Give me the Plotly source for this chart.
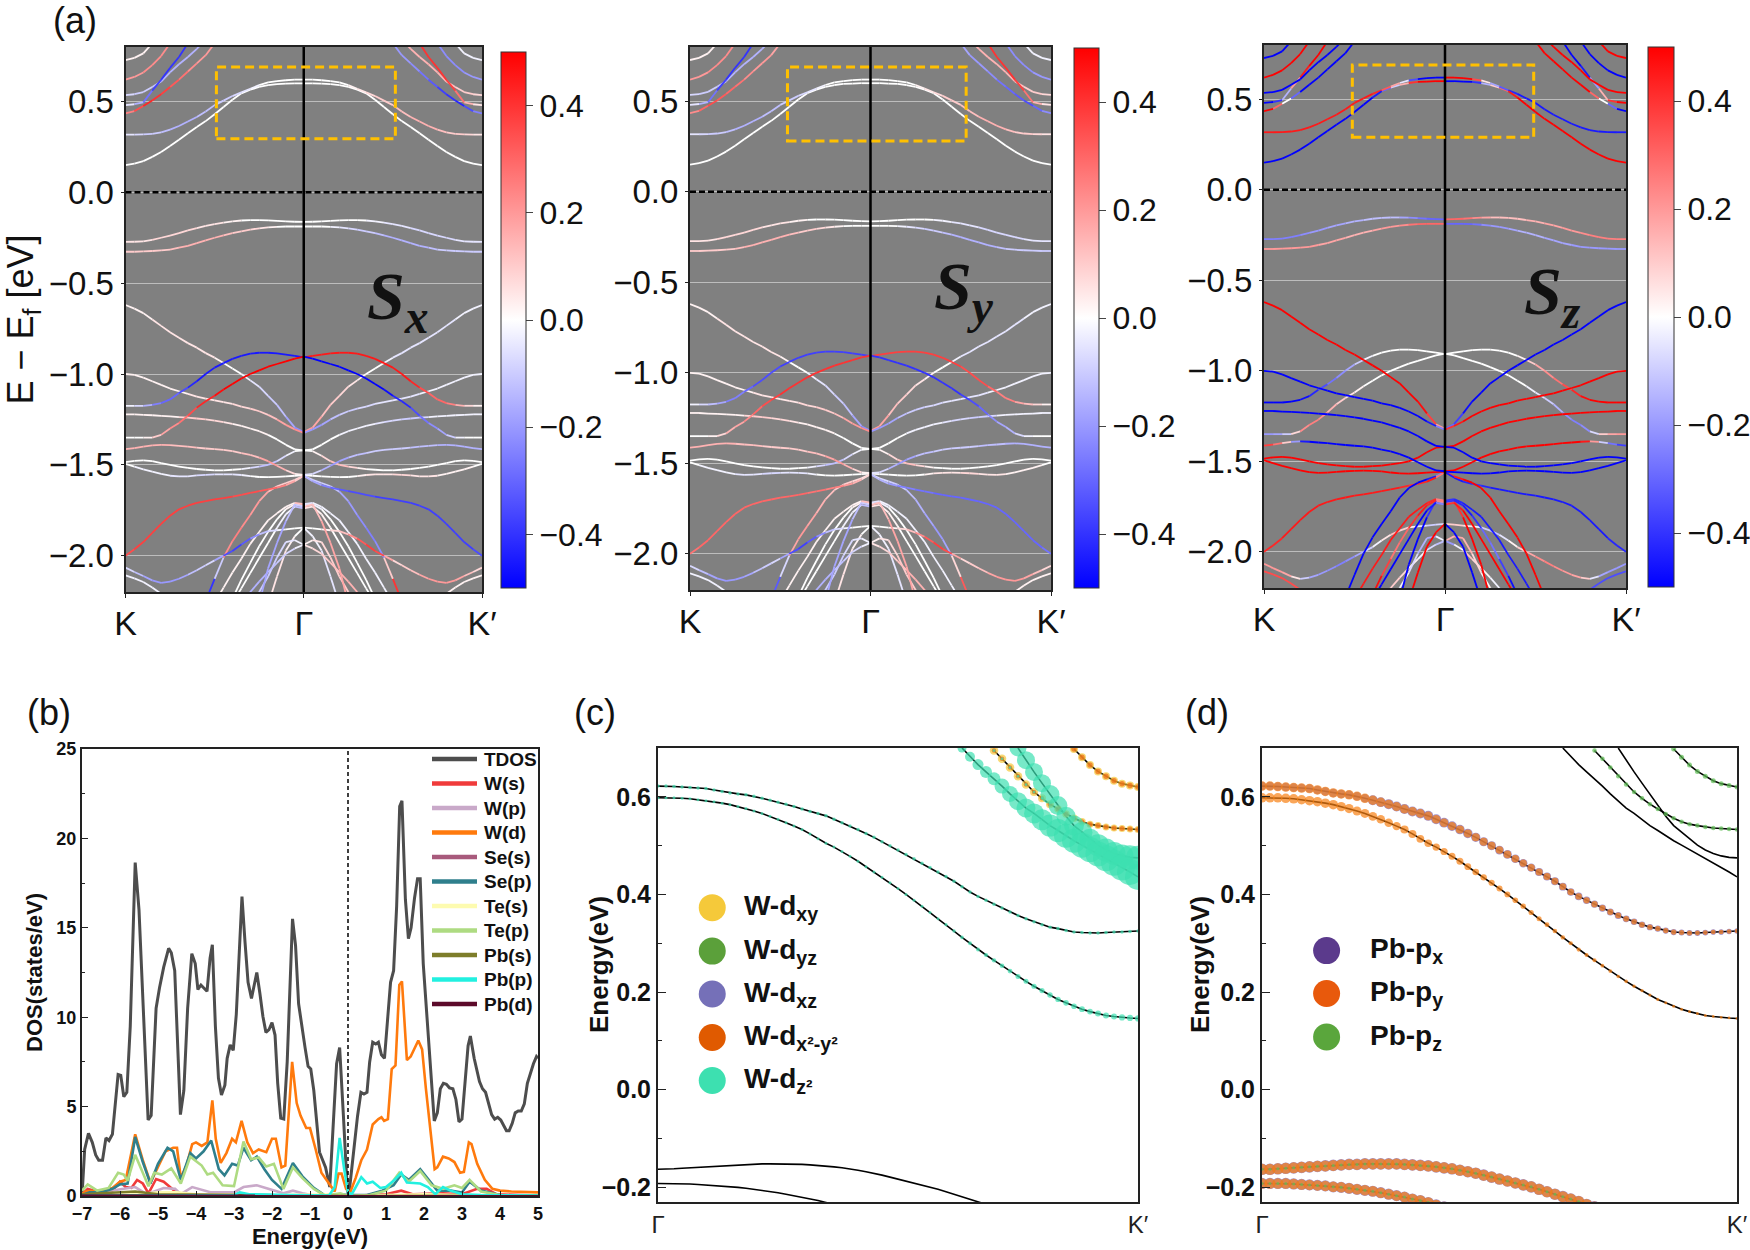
import numpy as np
import plotly.graph_objects as go

W, H = 1750, 1250
SANS = "Liberation Sans"

# --- panel (a): bands from K to Gamma, read at 21 even steps. K' side is the mirror (spin flips sign)
e_a = [-.62,-.64,-.665,-.70,-.735,-.77,-.80,-.83,-.855,-.885,-.91,-.94,-.97,-1.0,-1.035,-1.07,-1.12,-1.17,-1.235,-1.295,-1.32]
e_b = [-1.175,-1.175,-1.175,-1.17,-1.16,-1.14,-1.105,-1.075,-1.04,-1.0,-.965,-.94,-.917,-.90,-.888,-.883,-.883,-.886,-.893,-.90,-.908]
e_c = [-1.0,-1.005,-1.02,-1.04,-1.06,-1.08,-1.095,-1.11,-1.125,-1.135,-1.145,-1.155,-1.165,-1.18,-1.19,-1.205,-1.225,-1.25,-1.28,-1.305,-1.325]
e_d = [-1.35,-1.35,-1.35,-1.35,-1.335,-1.30,-1.27,-1.23,-1.185,-1.15,-1.12,-1.085,-1.055,-1.025,-1.0,-.98,-.96,-.945,-.93,-.915,-.905]
e_e = [-1.222,-1.222,-1.225,-1.227,-1.23,-1.233,-1.237,-1.24,-1.245,-1.25,-1.257,-1.265,-1.275,-1.285,-1.30,-1.315,-1.335,-1.36,-1.39,-1.415,-1.42]
e_f = [-1.413,-1.408,-1.40,-1.393,-1.39,-1.392,-1.396,-1.40,-1.405,-1.41,-1.414,-1.418,-1.425,-1.435,-1.445,-1.46,-1.48,-1.505,-1.53,-1.55,-1.555]
e_g = [-1.485,-1.478,-1.475,-1.48,-1.49,-1.50,-1.51,-1.517,-1.523,-1.527,-1.53,-1.53,-1.527,-1.524,-1.517,-1.51,-1.50,-1.48,-1.45,-1.425,-1.42]
e_h = [-1.495,-1.51,-1.525,-1.538,-1.55,-1.56,-1.564,-1.563,-1.558,-1.555,-1.553,-1.552,-1.553,-1.556,-1.562,-1.567,-1.568,-1.566,-1.563,-1.56,-1.557]
e_i = [-2.0,-1.965,-1.925,-1.875,-1.825,-1.78,-1.745,-1.725,-1.71,-1.70,-1.69,-1.683,-1.675,-1.665,-1.655,-1.645,-1.635,-1.625,-1.612,-1.59,-1.56]
e_j = [-2.066,-2.09,-2.112,-2.136,-2.15,-2.143,-2.127,-2.105,-2.08,-2.053,-2.026,-2.0,-1.974,-1.938,-1.906,-1.883,-1.865,-1.86,-1.855,-1.85,-1.846]
e_k = [-2.108,-2.125,-2.145,-2.175,-2.21,None,None,None,None,None,None,None,None,None,None,None,None,None,None,None,None]
e_m = [None]*9 + [-2.25,-2.128,-2.01,-1.92,-1.846,-1.776,-1.70,-1.648,-1.618,-1.60,-1.583,-1.56]
e_n = [None]*10 + [-2.26,-2.176,-2.093,-2.017,-1.935,-1.87,-1.806,-1.767,-1.731,-1.709,-1.717]
e_o = [None]*12 + [-2.237,-2.133,-2.04,-1.948,-1.869,-1.80,-1.744,-1.717,-1.726]
e_p = [None]*12 + [-2.263,-2.18,-2.096,-2.013,-1.93,-1.846,-1.772,-1.73,-1.739]
e_q = [None]*13 + [-2.26,-2.2,-2.143,-2.09,-2.04,-1.99,-1.96,-1.94]
e_r = [None]*15 + [-2.263,-2.07,-1.93,-1.81,-1.717,-1.731]
e_s = [None]*16 + [-2.27,-2.115,-1.972,-1.893,-1.846]
e_t = [None]*14 + [-2.27,-2.2,-2.115,-2.01,-1.925,-1.915,-1.94]
e_u1 = [.15,.158,.172,.195,.222,.255,.29,.325,.36,.392,.43,.47,.51,.545,.565,.58,.59,.596,.598,.60,.60]
e_u2 = [.318,.318,.319,.322,.33,.345,.365,.39,.415,.445,.48,.505,.53,.55,.57,.59,.605,.612,.617,.62,.62]
e_t1 = [.728,.74,.765,.82] + [None]*17
e_t2 = [.62,.635,.66,.70,.75,.82] + [None]*15
e_t3 = [.535,.54,.552,.58,.61,.66,.705,.745,.79,.84] + [None]*11
e_t4 = [.48,.485,.495,.56,.62,.685,.745,.82] + [None]*13
e_t5 = [.435,.447,.475,.505,.54,.58,.62,.665,.71,.755,.82] + [None]*10
e_v1 = [-.273,-.272,-.27,-.262,-.25,-.238,-.225,-.21,-.197,-.185,-.175,-.167,-.16,-.155,-.153,-.153,-.154,-.157,-.16,-.162,-.163]
e_v2 = [-.327,-.327,-.325,-.323,-.32,-.315,-.305,-.295,-.28,-.265,-.25,-.237,-.225,-.215,-.205,-.198,-.193,-.19,-.188,-.188,-.188]

# Sx on the same steps
sx_a = [.03,.03,.03,.04,.04,.05,.05,.06,.06,.05,.03,.02,0,-.02,-.03,-.05,-.08,-.12,-.15,-.2,-.25]
sx_b = [-.02,-.05,-.12,-.2,-.28,-.32,-.3,-.4,-.45,-.45,-.45,-.45,-.45,-.45,-.45,-.45,-.45,-.45,-.45,-.45,-.45]
sx_c = [.02,.02,.02,.02,.02,.02,.03,.04,.05,.05,.05,.06,.06,.08,.08,.1,.12,.15,.18,.2,.25]
sx_d = [0,0,.02,.05,.15,.2,.25,.3,.42,.42,.45,.5,.5,.5,.5,.5,.5,.5,.5,.5,.5]
sx_e = [.02,.02,.02,.02,.02,.03,.03,.1,.1,.08,.08,.06,.04,.03,.02,.02,.01,0,0,0,0]
sx_f = [.15,.15,.15,.15,.15,.15,.12,.12,.12,.1,.1,.1,.1,.12,.12,.15,.2,.2,.1,.05,0]
sx_g = [0,0,0,0,0,0,0,0,0,0,0,0,0,-.02,-.05,-.08,-.15,-.1,-.03,0,0]
sx_h = [.02,0,-.03,-.03,-.03,-.04,-.06,-.04,-.06,-.08,-.06,-.06,-.05,-.03,-.02,0,0,0,0,0,0]
sx_i = [.35,.35,.38,.38,.38,.38,.38,.38,.38,.38,.38,.38,.36,.36,.35,.33,.3,.3,.2,.15,.05]
sx_j = [-.05,-.1,-.15,-.18,-.2,-.2,-.18,-.15,-.12,-.1,-.05,-.3,-.4,-.35,-.3,-.15,-.1,-.05,0,0,0]
sx_k = [-.03,-.03,-.03,-.03,-.03] + [None]*16
sx_m = [None]*9 + [-.4,-.4,.2,.25,.25,.2,.18,.15,.12,.1,.08,.05]
sx_n = [None]*10 + [.02,.02,.02,.02,.02,.02,.02,.02,.02,.05,.2]
sx_o = [None]*12 + [.01,.01,.01,.01,.01,.01,.01,.02,.1]
sx_p = [None]*12 + [-.01,-.01,-.01,-.01,-.01,-.01,-.02,-.05,-.2]
sx_q = [None]*13 + [-.15,-.15,-.15,-.15,-.12,-.1,-.05,0]
sx_r = [None]*15 + [-.18,-.18,-.18,-.15,-.12,-.1]
sx_s = [None]*16 + [.05,.05,.03,.02,0]
sx_t = [None]*14 + [-.1,-.1,-.1,-.08,-.05,-.03,0]
sx_u1 = [0]*21
sx_u2 = [-.03,-.05,-.08,-.1,-.12,-.15,-.15,-.15,-.15,-.12,-.12,-.1,-.08,-.05,-.03,-.02,0,0,0,0,0]
sx_t1 = [.02,.02,.02,.02] + [None]*17
sx_t2 = [.2,.2,.22,.22,.22,.22] + [None]*15
sx_t3 = [-.05,-.08,-.1,-.12,-.15,-.15,-.15,-.15,-.15,-.15] + [None]*11
sx_t4 = [-.02,-.1,-.2,-.35,-.4,-.4,-.4,-.4] + [None]*13
sx_t5 = [.2,.3,.42,.42,.4,.35,.3,.25,.22,.2,.2] + [None]*10
sx_v1 = [.05,.05,.06,.06,.08,.08,.08,.08,.06,.05,.05,.03,.02,.02,0,0,0,0,0,0,0]
sx_v2 = [.1,.1,.1,.1,.1,.12,.14,.14,.15,.15,.15,.13,.1,.1,.08,.05,.03,.02,0,0,0]

# Sy looks like Sx except for a few weaker bands, those are typed below
sy_b = [-.02,-.05,-.1,-.15,-.22,-.26,-.25,-.33,-.36,-.36,-.36,-.38,-.38,-.38,-.38,-.38,-.38,-.38,-.38,-.38,-.38]
sy_d = [0,0,.02,.04,.12,.16,.2,.25,.35,.35,.38,.4,.4,.4,.4,.4,.4,.4,.4,.4,.4]
sy_i = [.28,.28,.3,.3,.3,.3,.3,.3,.3,.3,.3,.3,.29,.29,.28,.26,.24,.24,.16,.12,.04]
sy_m = [None]*9 + [-.33,-.33,.16,.2,.2,.16,.14,.12,.1,.08,.06,.04]
sy_t5 = [.2,.25,.35,.35,.32,.3,.25,.22,.2,.18,.18] + [None]*10

# Sz on the same steps
sz_a = [.5]*18 + [.45,.3,.1]
sz_b = [-.5,-.5,-.5,-.5,-.48,-.45,-.4,-.3,-.25,-.2,-.15,-.05,0,0,0,0,0,0,0,0,0]
sz_c = [-.5]*18 + [-.5,-.4,-.1]
sz_d = [-.2,-.2,-.15,-.05,.2,.25,.25,.2,.12,.06,.02,.01,0,0,0,0,0,0,0,0,0]
sz_e = [-.5]*21
sz_f = [.4,.35,.2,.0,-.4,-.5,-.5,-.5,-.5,-.5,-.5,-.5,-.5,-.5,-.5,-.5,-.5,-.5,-.5,-.5,-.5]
sz_g = [.5]*21
sz_h = [.5]*21
sz_i = [.42,.42,.45,.45,.45,.45,.45,.45,.45,.45,.45,.45,.45,.45,.45,.45,.4,.4,.45,.45,.1]
sz_j = [.2,.2,.2,.15,-.05,-.15,-.2,-.22,-.25,-.25,-.22,-.15,-.05,.02,.1,.15,.05,.0,-.1,-.1,-.05]
sz_k = [.35,.35,.35,.35,.35] + [None]*16
sz_m = [None]*9 + [-.5,-.5,-.5,-.5,-.5,-.5,-.5,-.5,-.5,-.5,-.4,-.1]
sz_n = [None]*10 + [.45,.45,.45,.45,.45,.45,.45,.45,.45,.4,.1]
sz_o = [None]*12 + [.5,.45,.3,.25,.35,.45,.45,.4,.1]
sz_p = [None]*12 + [-.5,-.5,-.5,-.5,-.5,-.5,-.5,-.4,-.1]
sz_q = [None]*13 + [.1,.1,.1,.05,.02,-.05,-.1,-.15,-.2]
sz_r = [None]*15 + [-.5,-.5,-.5,-.5,-.3,-.1]
sz_s = [None]*16 + [.5,.5,.5,.5,.45]
sz_t = [None]*14 + [.02,0,-.05,-.1,-.2,-.15,.1]
sz_u1 = [-.5]*13 + [-.4,-.2,0,.3,.5,.5,.5,.5]
sz_u2 = [.45]*13 + [.4,.25,.1,-.2,-.5,-.5,-.5,-.5]
sz_t1 = [-.5,-.5,-.5,-.5] + [None]*17
sz_t2 = [.5,.5,.5,.5,.5,.5] + [None]*15
sz_t3 = [-.5]*10 + [None]*11
sz_t4 = [-.5,-.5,-.3,0,.4,.5,.5,.5] + [None]*13
sz_t5 = [.5,.5,.1,-.1,-.5,-.5,-.5,-.5,-.5,-.5,-.5] + [None]*10
sz_v1 = [-.25,-.25,-.25,-.25,-.25,-.22,-.2,-.18,-.18,-.15,-.15,-.13,-.12,-.12,-.12,-.15,-.2,-.25,-.28,-.3,-.3]
sz_v2 = [.2,.2,.2,.2,.2,.2,.18,.18,.18,.15,.15,.15,.17,.18,.2,.22,.25,.3,.3,.3,.3]

# --- panel (b): DOS
tdos_e = [-7,-6.93,-6.83,-6.73,-6.64,-6.56,-6.46,-6.37,-6.29,-6.2,-6.05,-5.98,-5.9,-5.82,-5.73,-5.6,-5.5,-5.39,-5.26,-5.18,-5.05,-4.96,-4.85,-4.72,-4.65,-4.56,-4.41,-4.32,-4.22,-4.11,-4.02,-3.95,-3.87,-3.71,-3.63,-3.57,-3.49,-3.41,-3.33,-3.24,-3.18,-3.1,-3.02,-2.94,-2.85,-2.79,-2.71,-2.63,-2.54,-2.46,-2.4,-2.32,-2.24,-2.16,-2.08,-2.0,-1.92,-1.85,-1.77,-1.69,-1.6,-1.46,-1.38,-1.3,-1.21,-1.13,-1.05,-.98,-.9,-.82,-.75,-.59,-.48,-.3,-.22,-.12,-.02,.02,.12,.25,.34,.42,.5,.57,.65,.73,.8,.88,.96,1.05,1.12,1.2,1.28,1.36,1.42,1.51,1.59,1.66,1.75,1.83,1.9,1.98,2.12,2.27,2.35,2.43,2.51,2.59,2.67,2.76,2.84,2.92,3.0,3.08,3.16,3.22,3.32,3.46,3.54,3.62,3.69,3.78,3.86,3.94,4.02,4.1,4.17,4.24,4.32,4.4,4.48,4.56,4.64,4.72,4.88,4.96,5]
tdos_v = [0,2.6,3.5,3.0,2.3,2.0,2.0,3.25,3.1,3.45,6.8,6.75,5.55,5.8,9.5,18.65,16,10.5,4.25,4.5,10.5,11.65,12.8,13.85,13.6,12.6,4.55,5.9,10.5,13.55,13,11.55,11.8,11.45,13.3,14.05,9.5,6.6,5.65,6.2,7.7,8.45,8.15,10.15,14.6,16.75,14.2,11.95,11.05,11.95,12.5,11.35,10.05,9.15,9.3,9.7,9.0,6.3,4.35,4.3,7.5,15.5,14,10.75,9.3,8.3,7.25,7.1,5.9,4.05,2.45,1.6,.5,7.4,8.3,4.45,.4,0,2.0,4.45,5.8,5.7,5.8,7.5,8.6,8.5,8.6,7.9,7.7,10.15,11.95,12.6,16.2,21.8,22.1,16.6,14.4,15,16.65,17.75,17.75,13,8.5,4.2,4.65,6,6.3,6.25,6.05,6.0,5.4,4.15,4.3,6.5,8.4,8.95,7.7,6.4,6.0,5.8,5.3,4.55,4.3,4.4,4.25,3.95,3.65,3.65,4.05,4.65,4.75,4.75,5.15,6.3,7.4,7.8,7.7]
wd_e = [-7,-6.9,-6.5,-6.2,-6.0,-5.85,-5.6,-5.4,-5.2,-5.0,-4.8,-4.6,-4.5,-4.4,-4.25,-4.1,-4.0,-3.85,-3.7,-3.57,-3.48,-3.35,-3.2,-3.05,-2.95,-2.8,-2.65,-2.5,-2.35,-2.15,-2.0,-1.9,-1.75,-1.65,-1.47,-1.35,-1.25,-1.1,-1.0,-.85,-.7,-.5,-.35,-.25,-.17,-.05,.05,.2,.35,.5,.65,.8,.88,.95,1.05,1.15,1.25,1.35,1.42,1.55,1.65,1.85,1.95,2.05,2.28,2.35,2.5,2.65,2.8,2.95,3.05,3.18,3.25,3.4,3.6,3.8,4.0,4.3,5]
wd_v = [.1,.25,.3,.45,.8,.9,3.45,2.0,.75,1.6,2.5,2.7,2.7,1.0,1.7,2.9,3.0,2.8,3.0,5.35,3.2,1.85,2.4,3.2,3.0,4.2,3.0,2.4,2.6,2.45,3.2,3.2,1.6,1.7,7.5,5.2,4.5,3.8,3.8,2.6,1.3,.7,.25,1.25,1.25,.4,.15,1.0,2.0,2.6,4.0,4.3,4.4,4.2,4.3,7.1,7.3,11.8,12.0,7.6,7.8,8.7,8.2,6.0,1.5,1.6,2.2,2.1,1.9,1.3,1.35,3.0,2.9,1.8,.9,.4,.3,.25,.2]
sep_e = [-7,-6.8,-6.5,-6.2,-6,-5.8,-5.6,-5.4,-5.2,-5,-4.75,-4.6,-4.4,-4.15,-4,-3.8,-3.6,-3.4,-3.25,-3.05,-2.9,-2.75,-2.55,-2.4,-2.2,-2,-1.75,-1.45,-1.2,-.9,-.6,-.2,0,.5,.9,1.2,1.4,1.6,1.9,2.2,2.35,2.7,3,3.2,3.5,4,5]
sep_v = [.05,.2,.2,.4,.65,.7,3.3,1.9,.7,1.8,2.7,2.5,.9,2.4,2.1,2.5,3.1,1.5,1.15,1.8,1.7,2.7,2.0,2.2,1.5,.9,.4,1.85,1.1,.45,.02,.1,.05,.05,.3,.6,1.2,.9,1.5,.7,.3,.3,.2,.8,.3,.05,.02]
tep_e = [-7,-6.85,-6.6,-6.3,-6.05,-5.9,-5.8,-5.6,-5.4,-5.25,-5.1,-4.9,-4.65,-4.4,-4.15,-3.85,-3.7,-3.55,-3.3,-3,-2.75,-2.55,-2.35,-2.15,-1.95,-1.7,-1.45,-1.2,-.9,-.6,-.2,0,.5,1.0,1.35,1.6,1.9,2.2,2.5,2.8,3,3.2,3.5,4,5]
tep_v = [.3,.65,.3,.45,1.3,1.2,.85,2.3,1.3,.55,1.3,1.2,1.55,.7,2.2,1.7,1.2,1.3,.6,.55,3.05,2.05,2.15,1.65,1.8,.4,1.6,1.0,.4,.02,.15,0,.02,.3,1.3,.8,1.4,.6,.4,.6,.45,.9,.25,.05,.02]
ws_e = [-7,-6.85,-6.5,-6.2,-6.0,-5.85,-5.7,-5.55,-5.4,-5.25,-5.05,-4.85,-4.6,-4.4,-4,-3,0,1.0,1.4,1.7,2.5,3,3.4,3.65,3.9,5]
ws_v = [.1,.4,.2,.3,.8,.5,.45,.9,.7,.15,.95,.8,.35,.1,.05,.02,0,.1,.3,.1,.15,.1,.4,.4,.1,.02]
wp_e = [-7,-5.6,-5.3,-4.85,-4.55,-4.4,-4.1,-3.85,-3.6,-3,-2.75,-2.4,-2,-1.7,-1.45,-1.2,-.9,0,5]
wp_v = [.05,.5,.1,.45,.4,.1,.5,.35,.2,.2,.5,.6,.35,.15,.3,.15,.02,0,.01]
pbp_e = [-7,-3,-2.85,-2.6,-1.5,-.5,-.35,-.22,-.1,0,.1,.35,.5,.65,.85,1,1.2,1.4,1.55,1.9,2.1,2.3,2.5,2.7,3,3.5,5]
pbp_v = [.02,.05,.2,.1,.05,.02,.5,3.25,1.5,.2,.1,1.05,.7,.8,.45,.5,.85,1.3,.75,.7,.5,.1,.5,.3,.1,.05,.02]
pbs_e = [-7,-5.6,-5,-3,-1,0,5]
pbs_v = [.1,.25,.1,.05,.02,0,.01]
tes_e = [-7,-5.5,-5,-4.5,-4,-2,-.2,0,1,2,3,5]
tes_v = [.02,.1,.2,.2,.1,.05,.1,0,.05,.1,.05,.01]
ses_e = [-7,-5,-3,0,3,5]
ses_v = [.03,.04,.03,0,.03,.01]
pbd_e = [-7,-3,0,3,5]
pbd_v = [.02,.02,0,.02,.01]

# --- panels (c) and (d): bands from Gamma to K', 61 k points
b1 = [.622,.622,.621,.620,.619,.618,.617,.614,.611,.608,
      .606,.604,.601,.597,.593,.589,.585,.580,.575,.570,
      .566,.561,.554,.547,.540,.533,.525,.517,.508,.500,
      .491,.482,.473,.464,.455,.446,.437,.427,.416,.405,
      .396,.388,.380,.372,.364,.357,.350,.344,.338,.333,
      .330,.326,.323,.322,.321,.321,.322,.323,.323,.324,.325]
b2 = [.598,.598,.598,.597,.596,.594,.592,.590,.587,.584,
      .580,.576,.571,.566,.560,.554,.547,.540,.533,.524,
      .514,.505,.497,.488,.478,.468,.457,.446,.435,.424,
      .412,.400,.388,.376,.363,.350,.338,.325,.312,.300,
      .287,.276,.265,.254,.243,.232,.222,.212,.203,.194,
      .185,.178,.171,.165,.160,.156,.152,.150,.148,.147,.146]
b3 = [-.163,-.163,-.162,-.161,-.160,-.159,-.158,-.157,-.156,-.155,
      -.154,-.153,-.153,-.152,-.152,-.152,-.152,-.152,-.153,-.154,
      -.155,-.156,-.158,-.160,-.162,-.165,-.168,-.171,-.175,-.179,
      -.183,-.187,-.191,-.195,-.199,-.204,-.209,-.214,-.219,-.224,
      -.229,-.235,-.240,-.246]
b4 = [-.192,-.192,-.192,-.192,-.193,-.194,-.195,-.196,-.197,-.199,
      -.200,-.202,-.204,-.206,-.208,-.211,-.214,-.217,-.220,-.224,
      -.227,-.231,-.236,-.240]
b5 = [.698,.681,.665,.652,.642,.633,.627,.623,.620]
b6 = [.695,.678,.660,.642,.625,.610,.597,.585,.575,.565,.556,.549,.544,.541,.538,.536,.535,.534,.533]
b7 = [.70,.675,.651,.628,.605,.582,.560,.541,.527,.513,.501,.491,.484,.479,.476,.475]
b8 = [.700,.682,.666,.651,.637,.622,.606,.591,.577,.566,.553,.541,.531,.520,.510,.501,.492,.483,.474,.465,.455,.446,.436]

# orbital weights per dot
z2_b1 = [.35]*61
z2_b2 = [.3]*36 + [.32,.34,.36,.38,.4,.42,.44,.46,.48,.5,.5,.52,.52,.54,.54,.56,.56,.58,.58,.6,.6,.6,.62,.62,.62]
z2_b6 = [.3,.3,.3,.3,.3,.3,.3]
z2_b7 = [1.7,1.8,1.8,1.8,1.9,1.9,1.9,2.0,2.1,2.1,2.2,2.3,2.3,2.3,2.4,2.4]
z2_b8 = [.9,1.0,1.1,1.2,1.3,1.5,1.6,1.8,1.9,2.0,2.1,2.2,2.3,2.4,2.4,2.5,2.5,2.5,2.6,2.6,2.6,2.6,2.6]
xy_b5 = [.8]*9
xy_b6 = [.85,.85,.85,.85,.85,.8,.8,.8,.75,.75,.75,.75,.7,.7,.7,.7,.7,.7,.7]
x2y2_b5 = [.55]*9
x2y2_b6 = [.45,.45,.45,.45,.45,.45,.45,.5,.5,.5,.5,.5,.5,.5,.5,.5,.5,.5,.5]

py_b1 = [.95]*14 + [.93,.92,.9,.9,.88,.88,.86,.86,.85,.84,.83,.82,.8,.8,.78,.78,.76,.76,.74,.72,.72,.7,.7,.68,.66,.66,.64,.62,.62,.6,.6,.58,.58,.56,.56,.54,.54,.52,.52,.5,.5,.48,.48,.46,.46,.45,.45]
py_b2 = [.95]*10 + [.94,.92,.9,.9,.88,.86,.85,.84,.82,.8,.78,.76,.74,.72,.7,.7,.68,.66,.64,.62,.6,.58,.56,.54,.52,.5,.48,.46,.44,.42,.42,.4,.4,.38,.38,.36,.36,.34,.34,.32,.32,.3,.3,.3,.3,.3,.3,.28,.28,.28,.28]
px_b1 = [.85]*14 + [.98,.98,1.0,1.0,1.0,1.0,1.0,1.0,1.0,.98,.98,.95,.95,.92,.9,.9,.88,.88,.86,.84,.84,.82,.8,.8,.78,.76,.76,.74,.72,.72,.7,.7,.68,.66,.66,.64,.64,.62,.62,.6,.6,.58,.58,.56,.56,.55,.55]
py_b3 = [1.1]*44
px_b3 = [1.16]*44
pz_b3 = [.3]*44
py_b4 = [1.05]*24
px_b4 = [1.12]*24
pz_b4 = [.3]*24
pz_b5 = [.5]*9
pz_b6 = [.45]*19

# --- legend texts and tick labels
dos_names = ["TDOS", "W(s)", "W(p)", "W(d)", "Se(s)", "Se(p)", "Te(s)", "Te(p)", "Pb(s)", "Pb(p)", "Pb(d)"]
dos_colors = ["#4d4d4d", "#f03b3b", "#c9a9c9", "#ff7a0d", "#a85a7c", "#2f7f8c", "#fdfbb0", "#aedb82", "#7d7d2a", "#22f0e0", "#5c0a2a"]
dos_data = [(tdos_e, tdos_v), (ws_e, ws_v), (wp_e, wp_v), (wd_e, wd_v), (ses_e, ses_v), (sep_e, sep_v),
            (tes_e, tes_v), (tep_e, tep_v), (pbs_e, pbs_v), (pbp_e, pbp_v), (pbd_e, pbd_v)]
d_orb_names = ["W-d<sub>xy</sub>", "W-d<sub>yz</sub>", "W-d<sub>xz</sub>", "W-d<sub>x²-y²</sub>", "W-d<sub>z²</sub>"]
d_orb_colors = ["#f5c93a", "#5ba03a", "#7570b8", "#e05a00", "#3de0b0"]
p_orb_names = ["Pb-p<sub>x</sub>", "Pb-p<sub>y</sub>", "Pb-p<sub>z</sub>"]
p_orb_colors = ["#5b3a8c", "#e8590c", "#5aa63c"]
COL_Z2, COL_XY, COL_X2 = "#3de0b0", "#f5c93a", "#ee6a10"
COL_PX, COL_PY, COL_PZ = "#7a62b5", "#f88012", "#5fbf55"

band_names = "a b c d e f g h i j k m n o p q r s t u1 u2 t1 t2 t3 t4 t5 v1 v2".split()
g = globals()
bands = {n: g["e_" + n] for n in band_names}
spin_x = {n: g["sx_" + n] for n in band_names}
spin_z = {n: g["sz_" + n] for n in band_names}
spin_y = dict(spin_x)
spin_y.update(b=sy_b, d=sy_d, i=sy_i, m=sy_m, t5=sy_t5)

BWR = [[0, "#0000ff"], [.5, "#ffffff"], [1, "#ff0000"]]


def bwr_color(v):
    t = max(-1, min(1, v / .5))
    if t < 0:
        c = int(255 * (1 + t))
        return "rgb(%d,%d,255)" % (c, c)
    c = int(255 * (1 - t))
    return "rgb(255,%d,%d)" % (c, c)


def px_x(p):
    return p / W


def px_y(p):
    return 1 - p / H


fig = go.Figure()
lay = {}
annos = []
shapes = []


def add_axes(n, x0, x1, y0, y1, xa, ya):
    s = "" if n == 1 else str(n)
    lay["xaxis" + s] = dict(domain=[px_x(x0), px_x(x1)], anchor="y" + s, showline=True, mirror=True, linecolor="#222",
                            linewidth=2, zeroline=False, showgrid=False, **xa)
    lay["yaxis" + s] = dict(domain=[px_y(y1), px_y(y0)], anchor="x" + s, showline=True, mirror=True, linecolor="#222",
                            linewidth=2, zeroline=False, **ya)


# panel (a)
a_panels = [
    (1, 125.5, 482, 47, 592, 501, 526, 52, 588, spin_x, "x", (-.49, .514), (.295, .69), 365, 300),
    (2, 690, 1051, 47, 590, 1074, 1099, 48, 588, spin_y, "y", (-.46, .53), (.28, .69), 932, 290),
    (3, 1264, 1626, 45, 588, 1648, 1674, 47, 587, spin_z, "z", (-.512, .49), (.29, .69), 1522, 295),
]
k_left = np.arange(21) / 20 - 1

for n, x0, x1, y0, y1, cx0, cx1, cy0, cy1, spin, lab, box_x, box_y, lab_x, lab_y in a_panels:
    add_axes(n, x0, x1, y0, y1,
             dict(range=[-1, 1], tickvals=[-1, 0, 1], ticktext=["K", "Γ", "K′"], ticks="outside", ticklen=4,
                  tickcolor="#222", ticklabelstandoff=-4, tickfont=dict(family=SANS, size=34, color="#111")),
             dict(range=[-2.2, .8], dtick=.5, tick0=0, tickformat=".1f", ticks="outside", ticklen=3, tickcolor="#222",
                  showgrid=True, gridcolor="#bdbdbd", gridwidth=1,
                  tickfont=dict(family=SANS, size=33, color="#111")))
    s = "" if n == 1 else str(n)
    # group the band pieces by colour so one trace holds all pieces of the same colour
    buckets = {}
    for name in band_names:
        e = bands[name] + bands[name][::-1][1:]
        sv = spin[name] + [None if v is None else -v for v in spin[name][::-1][1:]]
        ks = np.concatenate([k_left, -k_left[::-1][1:]])
        for i in range(len(e) - 1):
            if e[i] is None or e[i + 1] is None:
                continue
            v0 = sv[i] if sv[i] is not None else sv[i + 1]
            v1 = sv[i + 1] if sv[i + 1] is not None else sv[i]
            if i == 20:  # spin changes sign at Gamma, do not average across it
                v0 = v1
            key = round((v0 + v1) / 2 * 40) / 40
            bx, by = buckets.setdefault(key, ([], []))
            bx += [ks[i], ks[i + 1], None]
            by += [e[i], e[i + 1], None]
    for key, (bx, by) in sorted(buckets.items(), key=lambda kv: abs(kv[0])):
        fig.add_trace(go.Scatter(x=bx, y=by, mode="lines", line=dict(color=bwr_color(key), width=1.8), showlegend=False,
                                 hoverinfo="skip", xaxis="x" + s, yaxis="y" + s))
    fig.add_trace(go.Scatter(x=[0], y=[-9], mode="markers", showlegend=False, xaxis="x" + s, yaxis="y" + s,
                             marker=dict(color=[0], colorscale=BWR, cmin=-.5, cmax=.5, showscale=True, colorbar=dict(
                                 x=px_x(cx0), xanchor="left", xpad=0, y=px_y(cy0), yanchor="top", ypad=0,
                                 lenmode="fraction", len=(cy1 - cy0) / H, thickness=cx1 - cx0, thicknessmode="pixels",
                                 tickvals=[-.4, -.2, 0, .2, .4], tickformat=".1f", ticks="outside", ticklen=7,
                                 outlinecolor="#333", outlinewidth=1,
                                 tickfont=dict(family=SANS, size=32, color="#111")))))
    shapes.append(dict(type="line", xref="x" + s, yref="y" + s, x0=0, x1=0, y0=-2.2, y1=.8, line=dict(color="black", width=2.5)))
    shapes.append(dict(type="line", xref="x" + s, yref="y" + s, x0=-1, x1=1, y0=0, y1=0, line=dict(color="black", width=2.5, dash="6px,3px")))
    shapes.append(dict(type="rect", xref="x" + s, yref="y" + s, x0=box_x[0], x1=box_x[1], y0=box_y[0], y1=box_y[1],
                       line=dict(color="#ffc000", width=3, dash="9px,5px")))
    shapes.append(dict(type="rect", xref="x" + s + " domain", yref="y" + s + " domain", x0=0, x1=1, y0=0, y1=1,
                       fillcolor="#808080", line=dict(width=0), layer="below"))
    annos.append(dict(xref="paper", yref="paper", x=px_x(lab_x), y=px_y(lab_y), xanchor="left", yanchor="middle", showarrow=False,
                      text="<b><i>S<sub>%s</sub></i></b>" % lab, font=dict(family="Liberation Serif", size=68, color="#111")))

lay["yaxis"]["title"] = dict(text="E − E<sub>f</sub> [eV]", font=dict(family=SANS, size=36, color="#111"), standoff=8)

# panel (b)
add_axes(4, 82, 538, 749, 1196,
         dict(range=[-7, 5], dtick=1, ticks="inside", ticklen=5, tickcolor="#222",
              tickfont=dict(family=SANS, size=18, color="#111", weight="bold"),
              title=dict(text="<b>Energy(eV)</b>", font=dict(family=SANS, size=22, color="#111"), standoff=4)),
         dict(range=[0, 25], dtick=5, ticks="inside", ticklen=6, tickcolor="#222", showgrid=False,
              minor=dict(dtick=2.5, ticks="inside", ticklen=3, tickcolor="#222"),
              tickfont=dict(family=SANS, size=18, color="#111", weight="bold"),
              title=dict(text="<b>DOS(states/eV)</b>", font=dict(family=SANS, size=22, color="#111"), standoff=8)))
for i, (name, col, (xs, ys)) in enumerate(zip(dos_names, dos_colors, dos_data)):
    fig.add_trace(go.Scatter(x=xs, y=ys, mode="lines", name=name, line=dict(color=col, width=3 if name == "TDOS" else 2.6),
                             showlegend=False, xaxis="x4", yaxis="y4"))
    # key drawn by hand, the built in legend can not keep this row height with this font
    row_y = 759 + 24.5 * i
    shapes.append(dict(type="line", xref="paper", yref="paper", x0=px_x(432), x1=px_x(477), y0=px_y(row_y), y1=px_y(row_y),
                       line=dict(color=col, width=4.5)))
    annos.append(dict(xref="paper", yref="paper", x=px_x(482), y=px_y(row_y), xanchor="left", yanchor="middle", showarrow=False,
                      text="<b>%s</b>" % name, font=dict(family=SANS, size=19, color="#111")))
shapes.append(dict(type="line", xref="x4", yref="y4", x0=0, x1=0, y0=0, y1=25, line=dict(color="black", width=1.5, dash="4px,3px")))


# panels (c) and (d)
def add_band_line(n, band, start=0):
    ts = (start + np.arange(len(band))) / 60
    fig.add_trace(go.Scatter(x=ts, y=band, mode="lines", line=dict(color="black", width=1.6), showlegend=False,
                             hoverinfo="skip", xaxis="x%d" % n, yaxis="y%d" % n))


def add_dots(n, band, weight, color, start=0):
    m = len(weight)
    ts = (start + np.arange(m)) / 60
    fig.add_trace(go.Scatter(x=ts, y=band[:m], mode="markers", marker=dict(color=color, size=[w * 10 for w in weight], line=dict(width=0)),
                             showlegend=False, hoverinfo="skip", xaxis="x%d" % n, yaxis="y%d" % n))


for n, x0, x1, tx, ty in [(5, 658, 1138, 599, 965), (6, 1262, 1737, 1200, 965)]:
    add_axes(n, x0, x1, 748, 1202,
             dict(range=[0, 1], tickvals=[0, 1], ticktext=["Γ", "K′"], ticks="", tickfont=dict(family=SANS, size=24, color="#222")),
             dict(range=[-.23, .7], tick0=0, dtick=.2, tickformat=".1f", ticks="inside", ticklen=8, tickcolor="#222", showgrid=False,
                  minor=dict(dtick=.1, ticks="inside", ticklen=4, tickcolor="#222"),
                  tickfont=dict(family=SANS, size=25, color="#111", weight="bold")))
    annos.append(dict(xref="paper", yref="paper", x=px_x(tx), y=px_y(ty), xanchor="center", yanchor="middle", textangle=-90,
                      showarrow=False, text="<b>Energy(eV)</b>", font=dict(family=SANS, size=26, color="#111")))
    for band, st in [(b1, 0), (b2, 0), (b3, 0), (b4, 0), (b5, 52), (b6, 42), (b7, 45), (b8, 38)]:
        add_band_line(n, band, st)

add_dots(5, b1, z2_b1, COL_Z2)
add_dots(5, b2, z2_b2, COL_Z2)
add_dots(5, b5, xy_b5, COL_XY, 52)
add_dots(5, b6, xy_b6, COL_XY, 42)
add_dots(5, b5, x2y2_b5, COL_X2, 52)
add_dots(5, b6, x2y2_b6, COL_X2, 42)
add_dots(5, b6, z2_b6, COL_Z2, 42)
add_dots(5, b7, z2_b7, COL_Z2, 45)
add_dots(5, b8, z2_b8, COL_Z2, 38)

add_dots(6, b1, px_b1, COL_PX)
add_dots(6, b1, py_b1, COL_PY)
add_dots(6, b2, py_b2, COL_PY)
add_dots(6, b3, px_b3, COL_PX)
add_dots(6, b3, py_b3, COL_PY)
add_dots(6, b3, pz_b3, COL_PZ)
add_dots(6, b4, px_b4, COL_PX)
add_dots(6, b4, py_b4, COL_PY)
add_dots(6, b4, pz_b4, COL_PZ)
add_dots(6, b5, pz_b5, COL_PZ, 52)
add_dots(6, b6, pz_b6, COL_PZ, 42)

# legends inside (c) and (d)
for n, ys, names, cols, mx, tx in [(5, [.373, .284, .196, .107, .019], d_orb_names, d_orb_colors, .113, .175),
                                   (6, [.285, .197, .108], p_orb_names, p_orb_colors, .136, .223)]:
    fig.add_trace(go.Scatter(x=[mx] * len(ys), y=ys, mode="markers", marker=dict(color=cols, size=27), showlegend=False,
                             hoverinfo="skip", xaxis="x%d" % n, yaxis="y%d" % n))
    for y, t in zip(ys, names):
        annos.append(dict(xref="x%d" % n, yref="y%d" % n, x=tx, y=y, xanchor="left", yanchor="middle", showarrow=False,
                          text="<b>%s</b>" % t, font=dict(family=SANS, size=28, color="#111")))

for t, x, y in [("(a)", 51, 20), ("(b)", 25, 712), ("(c)", 572, 712), ("(d)", 1183, 712)]:
    annos.append(dict(xref="paper", yref="paper", x=px_x(x), y=px_y(y), xanchor="left", yanchor="middle", showarrow=False,
                      text=t, font=dict(family=SANS, size=36, color="#111")))

fig.update_layout(width=W, height=H, autosize=False, margin=dict(l=0, r=0, t=0, b=0, autoexpand=False), paper_bgcolor="white",
                  plot_bgcolor="white", annotations=annos, shapes=shapes, showlegend=False, **lay)
for s in ["", "2", "3"]:
    fig.layout["xaxis" + s].update(layer="above traces")
    fig.layout["yaxis" + s].update(layer="above traces")

fig.write_html("out.html", config={"displayModeBar": False}, post_script="document.body.style.margin = '0';")
